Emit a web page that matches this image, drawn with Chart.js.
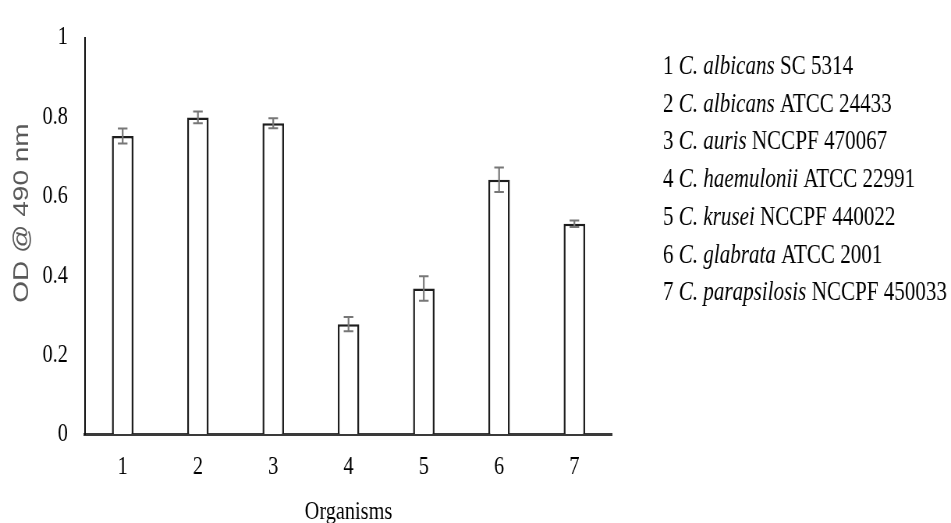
<!DOCTYPE html>
<html>
<head>
<meta charset="utf-8">
<script src="https://cdn.jsdelivr.net/npm/chart.js@4/dist/chart.umd.min.js"></script>
<style>
  html, body { margin: 0; padding: 0; background: #fff; overflow: hidden; }
</style>
</head>
<body>
<!-- drawn on a wider canvas and shown at 951px, which gives the narrow serif look -->
<canvas id="c" width="1219" height="523" style="display:block;width:951px;height:523px;"></canvas>
<script>
// Organism numbers on the x axis
const organisms = ['1', '2', '3', '4', '5', '6', '7'];
// Mean OD at 490 nm for each organism
const odMeans = [0.752, 0.799, 0.784, 0.278, 0.368, 0.642, 0.531];
// Error (± half range) for each organism
const odErrors = [0.019, 0.015, 0.0125, 0.018, 0.031, 0.031, 0.008];
// Key: species (italic) and strain
const speciesNames = ['C. albicans', 'C. albicans', 'C. auris', 'C. haemulonii', 'C. krusei', 'C. glabrata', 'C. parapsilosis'];
const strainIds = ['SC 5314', 'ATCC 24433', 'NCCPF 470067', 'ATCC 22991', 'NCCPF 440022', 'ATCC 2001', 'NCCPF 450033'];
// Y axis range and step
const yMin = 0, yMax = 1, yStep = 0.2;
const yTitle = 'OD @ 490 nm';
const xTitle = 'Organisms';

const SX = 951 / 1219;            // horizontal display scale of the canvas
const px = v => v / SX;           // page x distance -> canvas x distance
const SERIF = '"Liberation Serif", "Times New Roman", serif';

const errorBars = {
  id: 'errorBars',
  afterDatasetsDraw(chart) {
    const {ctx} = chart;
    const meta = chart.getDatasetMeta(0);
    const y = chart.scales.y;
    ctx.save();
    ctx.strokeStyle = '#777';
    meta.data.forEach((bar, i) => {
      const x = bar.x;
      const top = y.getPixelForValue(odMeans[i] + odErrors[i]);
      const bot = y.getPixelForValue(odMeans[i] - odErrors[i]);
      const cap = px(4.8);
      ctx.beginPath();
      ctx.lineWidth = 2.2;
      ctx.moveTo(x, top); ctx.lineTo(x, bot);
      ctx.stroke();
      ctx.beginPath();
      ctx.lineWidth = 2;
      ctx.moveTo(x - cap, top); ctx.lineTo(x + cap, top);
      ctx.moveTo(x - cap, bot); ctx.lineTo(x + cap, bot);
      ctx.stroke();
    });
    ctx.restore();
  }
};

const annotations = {
  id: 'annotations',
  afterDraw(chart) {
    const {ctx, chartArea} = chart;
    ctx.save();
    // y axis title
    ctx.fillStyle = '#595959';
    ctx.font = '28px "Liberation Sans", Arial, sans-serif';
    ctx.textAlign = 'center';
    ctx.textBaseline = 'alphabetic';
    ctx.translate(px(28), 213);
    ctx.rotate(-Math.PI / 2);
    ctx.fillText(yTitle, 0, 0);
    ctx.restore();

    ctx.save();
    // x axis title
    ctx.fillStyle = '#000';
    ctx.font = '26px ' + SERIF;
    ctx.textAlign = 'center';
    ctx.textBaseline = 'alphabetic';
    ctx.fillText(xTitle, (chartArea.left + chartArea.right) / 2, 519);

    // key at the right
    ctx.textAlign = 'left';
    const x0 = px(663);
    organisms.forEach((num, i) => {
      const yb = 74 + i * 37.7;
      let x = x0;
      ctx.font = '27px ' + SERIF;
      const a = num + ' ';
      ctx.fillText(a, x, yb);
      x += ctx.measureText(a).width;
      ctx.font = 'italic 27px ' + SERIF;
      ctx.fillText(speciesNames[i], x, yb);
      x += ctx.measureText(speciesNames[i]).width;
      ctx.font = '27px ' + SERIF;
      ctx.fillText(' ' + strainIds[i], x, yb);
    });
    ctx.restore();
  }
};

new Chart(document.getElementById('c'), {
  type: 'bar',
  data: {
    labels: organisms,
    datasets: [{
      data: odMeans,
      backgroundColor: '#fff',
      borderColor: '#1e1e1e',
      borderWidth: 2.5,
      borderSkipped: 'start',
      categoryPercentage: 1,
      barPercentage: 0.286
    }]
  },
  options: {
    responsive: false,
    animation: false,
    devicePixelRatio: 1,
    events: [],
    layout: { padding: { left: 0, top: 23, right: 1219 - px(612), bottom: 0 } },
    plugins: { legend: { display: false }, tooltip: { enabled: false } },
    scales: {
      x: {
        grid: { color: 'rgba(0,0,0,0)', drawTicks: false },
        border: { display: true, color: '#3a3a3a', width: 3 },
        ticks: { color: '#000', font: { family: SERIF, size: 26 }, padding: 17 },
        afterFit(s) { s.height = 523 - 434.5; }
      },
      y: {
        min: yMin, max: yMax,
        grid: { color: 'rgba(0,0,0,0)', drawTicks: false },
        border: { display: true, color: '#111', width: 2 },
        ticks: {
          stepSize: yStep, color: '#000', font: { family: SERIF, size: 26 }, padding: 22,
          callback: v => String(Number(v.toFixed(2)))
        },
        afterFit(s) { s.width = px(85); }
      }
    }
  },
  plugins: [errorBars, annotations]
});
</script>
</body>
</html>
